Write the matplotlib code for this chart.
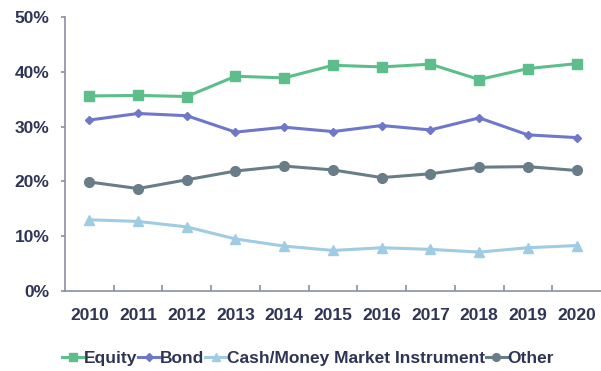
import numpy as np
import matplotlib
matplotlib.use("Agg")
from matplotlib import pyplot as plt
from matplotlib.ticker import FixedLocator, PercentFormatter

# data (percent)
years = ["2010", "2011", "2012", "2013", "2014", "2015", "2016", "2017", "2018", "2019", "2020"]
equity = [35.6, 35.7, 35.5, 39.2, 38.9, 41.2, 40.9, 41.4, 38.6, 40.6, 41.5]
bond = [31.2, 32.4, 32.0, 29.0, 29.9, 29.1, 30.2, 29.4, 31.6, 28.5, 28.0]
cash = [13.0, 12.7, 11.7, 9.5, 8.2, 7.4, 7.9, 7.6, 7.1, 7.9, 8.3]
other = [19.9, 18.7, 20.3, 21.9, 22.8, 22.1, 20.7, 21.4, 22.6, 22.7, 22.0]

text_color = "#2e3455"
axis_color = "#8a8fa3"

plt.rcParams['font.family'] = ['Liberation Sans', 'DejaVu Sans']
plt.rcParams['font.weight'] = 'bold'

fig = plt.figure(figsize=(6.01, 3.71), dpi=100)
ax = fig.add_axes([0.108, 0.2156, 0.892, 0.7384])

x = np.arange(len(years))
ax.plot(x, equity, color="#5dbe8b", lw=2.2, marker="s", ms=6.5, label="Equity")
ax.plot(x, bond, color="#6f77cb", lw=2.2, marker="D", ms=4.5, label="Bond")
ax.plot(x, cash, color="#9fcbe3", lw=2.2, marker="^", ms=6.5, label="Cash/Money Market Instrument")
ax.plot(x, other, color="#687d88", lw=2.2, marker="o", ms=7, label="Other")

ax.set_xlim(-0.5, len(years) - 0.5)
ax.set_ylim(0, 50)
ax.set_yticks([0, 10, 20, 30, 40, 50])
ax.yaxis.set_major_formatter(PercentFormatter(decimals=0))
ax.set_xticks(x)
ax.set_xticklabels(years)
ax.xaxis.set_minor_locator(FixedLocator(x[:-1] + 0.5))

for s in ["top", "right"]:
    ax.spines[s].set_visible(False)
for s in ["left", "bottom"]:
    ax.spines[s].set_color(axis_color)
    ax.spines[s].set_linewidth(1.2)

ax.tick_params(axis="x", which="major", length=0, pad=12, labelsize=12.5, labelcolor=text_color)
ax.tick_params(axis="x", which="minor", direction="in", length=4, color=axis_color, width=1.2)
ax.tick_params(axis="y", length=3, color=axis_color, width=1.2, pad=8, labelsize=12.5, labelcolor=text_color)

leg = fig.legend(loc="lower center", bbox_to_anchor=(0.513, -0.028), ncol=4, frameon=False,
                 handlelength=1.2, handletextpad=0.05, columnspacing=0.05, fontsize=12.5,
                 markerscale=0.8)
for t in leg.get_texts():
    t.set_color(text_color)

fig.savefig("out.png", dpi=100)
